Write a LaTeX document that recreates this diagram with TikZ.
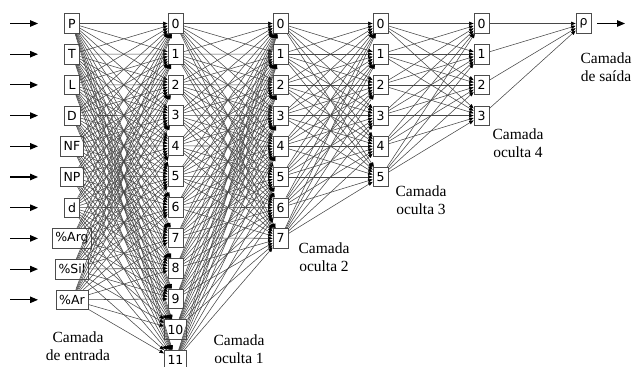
\documentclass[tikz,border=0pt]{standalone}
\usepackage{fontspec}
\setmainfont{Liberation Serif}
\newfontfamily\nodefont{DejaVu Sans}
\usetikzlibrary{arrows.meta}
\begin{document}
\begin{tikzpicture}[x=1pt,y=-1pt,
  neuron/.style={draw=black!70, line width=0.7pt, fill=white, font=\nodefont\fontsize{12.5}{12.5}\selectfont, inner xsep=3.2pt, inner ysep=0pt, minimum height=19.5pt, minimum width=15pt, anchor=center},
  conn/.style={draw=black!72, line width=0.55pt, -{Triangle[length=4.5pt,width=3.6pt,color=black]}},
  io/.style={line width=1.1pt, -{Triangle[length=8pt,width=6.5pt]}},
  lbl/.style={font=\fontsize{15.5}{18.5}\selectfont, align=center}]
\useasboundingbox (0,0) rectangle (633,367);
\foreach \t [count=\i from 0] in {P,T,L,D,NF,NP,d,{\%Arg},{\%Sil},{\%Ar}}
  \node[neuron] (a\i) at (72,23.5+30.7*\i) {\t};
\foreach \i in {0,...,11} \node[neuron] (b\i) at (175.5,23.5+30.6*\i) {\i};
\foreach \i in {0,...,7} \node[neuron] (c\i) at (280.5,23.5+30.7*\i) {\i};
\foreach \i in {0,...,5} \node[neuron] (d\i) at (380.5,23.5+30.7*\i) {\i};
\foreach \i in {0,...,3} \node[neuron] (e\i) at (481.5,23.5+30.7*\i) {\i};
\node[neuron] (f0) at (583.5,23.5) {ρ};
\foreach \i in {0,...,9} \foreach \j in {0,...,11} \draw[conn] (a\i) -- (b\j);
\foreach \i in {0,...,11} \foreach \j in {0,...,7} \draw[conn] (b\i) -- (c\j);
\foreach \i in {0,...,7} \foreach \j in {0,...,5} \draw[conn] (c\i) -- (d\j);
\foreach \i in {0,...,5} \foreach \j in {0,...,3} \draw[conn] (d\i) -- (e\j);
\foreach \i in {0,...,3} \draw[conn] (e\i) -- (f0);
\foreach \i in {0,...,9} {
  \coordinate (s\i) at (10,23.5+30.7*\i);
  \coordinate (t\i) at (38,23.5+30.7*\i);
  \draw[io] (s\i) -- (t\i);
}
\coordinate (os) at (597,23.5);
\coordinate (oe) at (625,23.5);
\draw[io] (os) -- (oe);
\node[lbl] (l0) at (78,346) {Camada\\de entrada};
\node[lbl] (l1) at (239,349) {Camada\\oculta 1};
\node[lbl] (l2) at (324,257) {Camada\\oculta 2};
\node[lbl] (l3) at (421,200) {Camada\\oculta 3};
\node[lbl] (l4) at (518,143) {Camada\\oculta 4};
\node[lbl] (l5) at (606,67) {Camada\\de saída};
\end{tikzpicture}
\end{document}
